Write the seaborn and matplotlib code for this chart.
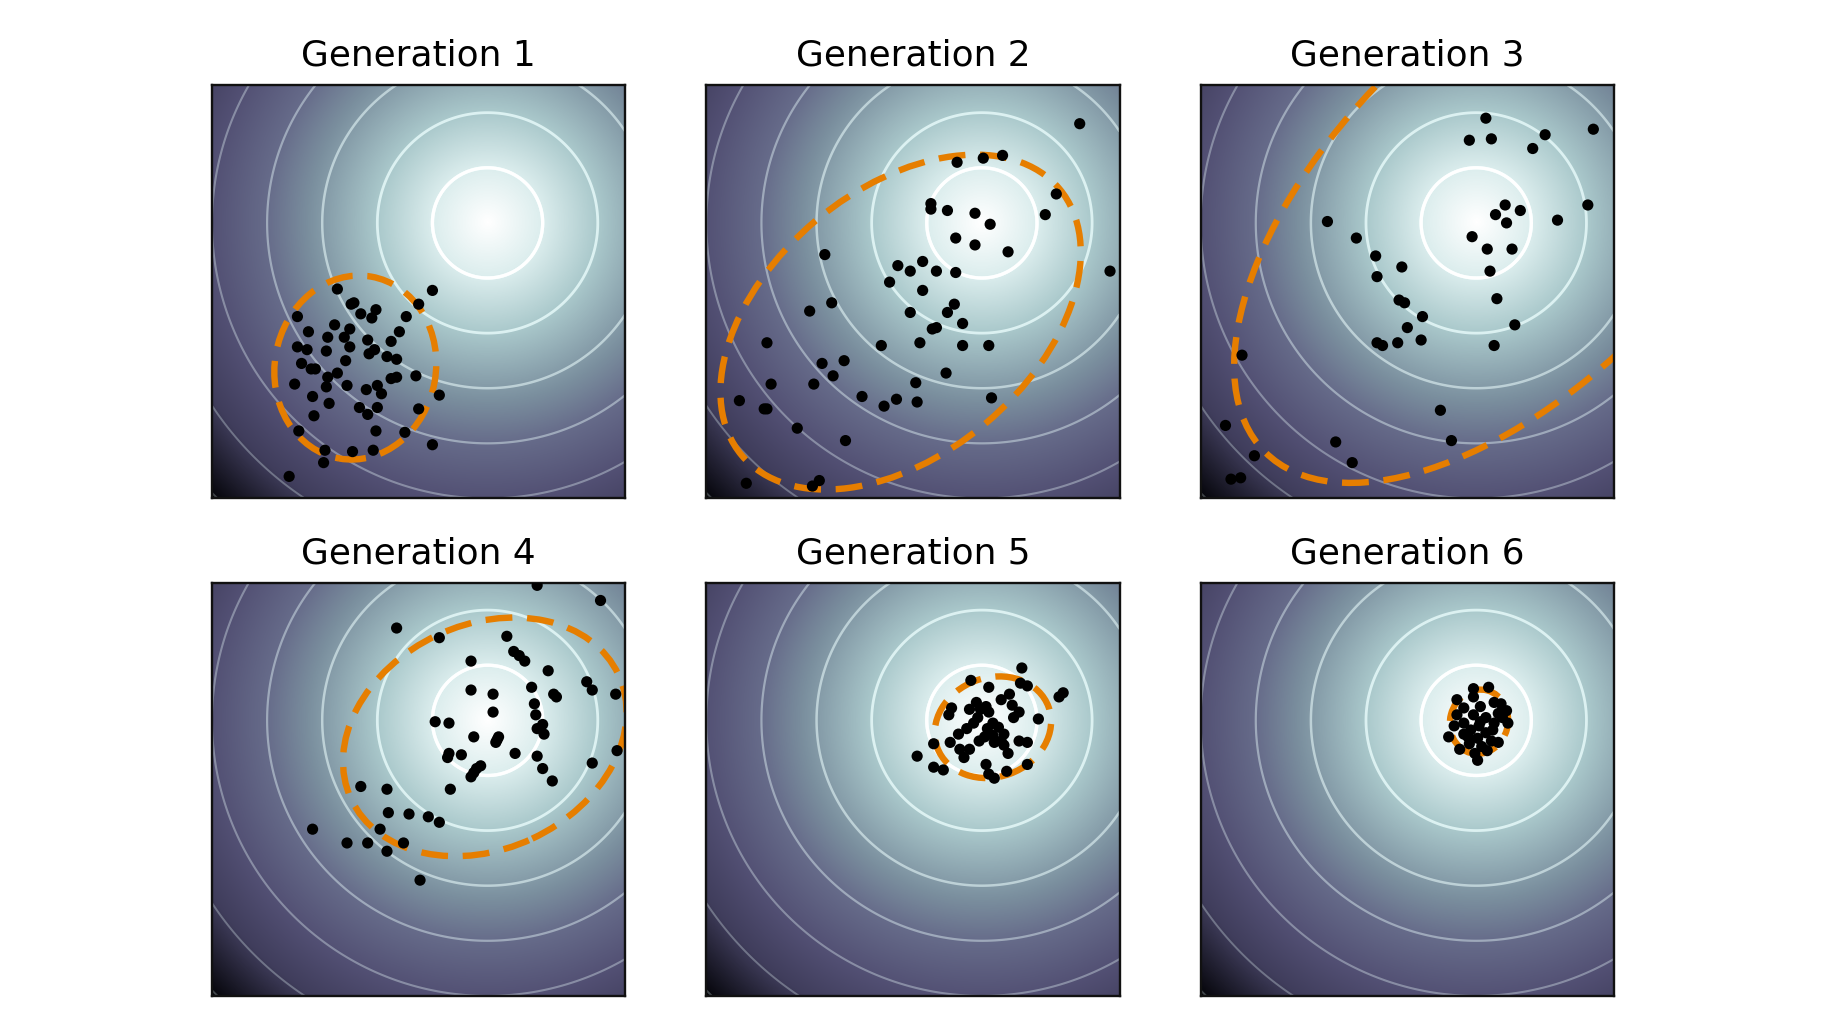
import numpy as np
import matplotlib
matplotlib.use("Agg")
import matplotlib.pyplot as plt
import seaborn as sns
from matplotlib.patches import Ellipse
from matplotlib.colors import LinearSegmentedColormap

# samples of each generation (optimum at the origin)
gen1_x = [-1.09, -0.40, -0.99, -0.97, -0.81, -0.50, -0.92, -0.84, -0.59, -1.38, -1.11, -1.00, -1.30, -0.64, -1.16,
          -1.04, -0.87, -0.70, -1.38, -1.31, -1.17, -1.00, -0.82, -0.86, -0.73, -0.66, -1.03, -1.35, -1.28, -1.25,
          -1.09, -1.16, -0.70, -0.66, -0.52, -1.40, -1.17, -1.02, -0.88, -0.80, -0.77, -0.35, -1.27, -1.15, -0.93,
          -0.80, -0.50, -0.87, -1.26, -1.37, -0.81, -0.60, -0.40, -1.18, -0.98, -0.83, -1.19, -1.44]
gen1_y = [-0.48, -0.49, -0.59, -0.58, -0.63, -0.59, -0.66, -0.69, -0.68, -0.68, -0.74, -0.77, -0.79, -0.79, -0.83,
          -0.83, -0.85, -0.86, -0.90, -0.92, -0.93, -0.90, -0.92, -0.95, -0.97, -0.99, -1.00, -1.02, -1.06, -1.06,
          -1.09, -1.12, -1.13, -1.12, -1.11, -1.17, -1.19, -1.18, -1.21, -1.18, -1.24, -1.25, -1.26, -1.31, -1.34,
          -1.34, -1.35, -1.39, -1.40, -1.51, -1.51, -1.52, -1.61, -1.65, -1.66, -1.65, -1.74, -1.84]

gen2_x = [0.71, -0.18, 0.01, 0.15, 0.54, -0.37, -0.37, -0.25, -0.05, 0.46, 0.06, -0.19, -0.05, 0.19, -1.14,
          -0.61, -0.43, -0.52, -0.33, -0.19, 0.93, -0.67, -0.43, -1.09, -0.20, -1.25, -0.52, -0.25, -0.14, -0.36,
          -0.33, -1.56, -0.73, -0.45, -0.14, 0.05, -1.16, -1.00, -1.08, -0.26, -1.53, -1.22, -0.48, -1.76, -0.87,
          -0.62, -0.47, -0.71, 0.07, -1.58, -1.56, -1.34, -0.99, -1.71, -1.18, -1.23]
gen2_y = [0.72, 0.44, 0.47, 0.49, 0.21, 0.14, 0.10, 0.09, 0.07, 0.06, -0.01, -0.11, -0.16, -0.21, -0.23,
          -0.31, -0.28, -0.35, -0.35, -0.36, -0.35, -0.43, -0.49, -0.58, -0.59, -0.64, -0.65, -0.65, -0.73, -0.77,
          -0.76, -0.87, -0.89, -0.87, -0.89, -0.89, -1.02, -1.00, -1.11, -1.09, -1.17, -1.17, -1.16, -1.29, -1.26,
          -1.28, -1.30, -1.33, -1.27, -1.35, -1.35, -1.49, -1.58, -1.89, -1.87, -1.91]

gen3_x = [0.07, 0.85, -0.05, 0.11, 0.50, 0.41, 0.81, 0.21, 0.32, 0.14, 0.22, 0.59, -1.08, -0.87, -0.03,
          0.08, 0.26, -0.73, -0.54, -0.72, 0.10, 0.15, -0.56, -0.52, -0.39, 0.28, -0.50, -0.40, -0.72, -0.68,
          -0.57, 0.13, -1.70, -0.26, -1.82, -1.02, -0.18, -1.61, -0.90, -1.78, -1.71]
gen3_y = [0.76, 0.68, 0.60, 0.61, 0.64, 0.54, 0.13, 0.13, 0.09, 0.06, 0.00, 0.02, 0.01, -0.11, -0.10,
          -0.19, -0.19, -0.24, -0.32, -0.39, -0.35, -0.55, -0.56, -0.58, -0.68, -0.74, -0.76, -0.85, -0.87, -0.89,
          -0.87, -0.89, -0.96, -1.36, -1.47, -1.59, -1.58, -1.69, -1.74, -1.86, -1.85]

gen4_x = [0.36, 0.82, -0.66, -0.35, 0.14, 0.19, 0.23, 0.27, -0.12, 0.44, 0.72, 0.76, -0.12, 0.04, 0.32,
          0.48, 0.50, 0.93, 0.34, 0.04, 0.35, -0.38, -0.28, 0.40, 0.36, 0.41, -0.10, 0.08, 0.06, 0.07,
          -0.28, -0.19, -0.29, 0.20, 0.36, 0.94, 0.76, -0.05, -0.08, -0.10, -0.12, 0.40, 0.47, -0.92, -0.73,
          -0.27, -0.72, -0.57, -0.43, -0.35, -1.27, -0.78, -1.02, -0.87, -0.61, -0.73, -0.49]
gen4_y = [0.98, 0.87, 0.67, 0.60, 0.61, 0.50, 0.47, 0.43, 0.43, 0.36, 0.28, 0.22, 0.22, 0.19, 0.24,
          0.19, 0.17, 0.19, 0.12, 0.06, 0.04, -0.01, -0.02, -0.03, -0.06, -0.10, -0.12, -0.12, -0.16, -0.14,
          -0.24, -0.25, -0.27, -0.24, -0.26, -0.22, -0.31, -0.33, -0.35, -0.38, -0.41, -0.35, -0.44, -0.48, -0.50,
          -0.50, -0.67, -0.68, -0.70, -0.74, -0.79, -0.79, -0.89, -0.89, -0.89, -0.95, -1.16]

gen5_x = [0.29, -0.08, 0.28, 0.33, 0.05, 0.59, 0.56, 0.20, 0.14, -0.04, 0.03, 0.22, -0.09, -0.01, -0.22,
          -0.24, 0.05, 0.27, 0.23, 0.41, -0.03, 0.08, -0.06, -0.11, 0.04, 0.12, 0.16, 0.08, -0.17, 0.02,
          -0.02, 0.14, 0.27, 0.33, -0.35, -0.23, 0.09, 0.16, -0.16, -0.09, 0.19, -0.47, -0.13, 0.03, 0.33,
          -0.35, -0.28, 0.05, 0.18, 0.09]
gen5_y = [0.38, 0.29, 0.27, 0.25, 0.24, 0.20, 0.17, 0.19, 0.15, 0.13, 0.10, 0.11, 0.08, 0.08, 0.09,
          0.04, 0.06, 0.06, 0.02, 0.01, 0.02, -0.02, -0.02, -0.06, -0.06, -0.05, -0.10, -0.11, -0.10, -0.12,
          -0.15, -0.15, -0.15, -0.16, -0.17, -0.16, -0.16, -0.18, -0.21, -0.21, -0.24, -0.26, -0.27, -0.32, -0.32,
          -0.34, -0.36, -0.39, -0.37, -0.42]

gen6_x = [-0.02, 0.09, -0.14, -0.02, 0.13, 0.18, 0.03, -0.09, 0.22, -0.14, -0.02, 0.07, 0.16, 0.23, -0.09,
          0.02, 0.13, -0.16, -0.04, 0.07, -0.09, -0.20, 0.01, 0.11, 0.16, -0.05, 0.04, -0.12, 0.08, -0.01,
          0.01, -0.06, 0.03, 0.12, 0.19]
gen6_y = [0.23, 0.24, 0.15, 0.17, 0.13, 0.12, 0.10, 0.09, 0.07, 0.04, 0.04, 0.02, 0.05, -0.02, -0.02,
          -0.04, -0.02, -0.04, -0.07, -0.09, -0.10, -0.12, -0.13, -0.15, -0.16, -0.17, -0.19, -0.21, -0.22, -0.24,
          -0.29, -0.12, -0.01, -0.07, 0.02]

gens_x = [gen1_x, gen2_x, gen3_x, gen4_x, gen5_x, gen6_x]
gens_y = [gen1_y, gen2_y, gen3_y, gen4_y, gen5_y, gen6_y]
titles = ["Generation 1", "Generation 2", "Generation 3", "Generation 4", "Generation 5", "Generation 6"]

# search distribution (1-sigma ellipse) per generation
ell_x = [-0.96, -0.59, 0.27, -0.02, 0.08, 0.02]
ell_y = [-1.05, -0.72, 0.14, -0.12, -0.05, -0.01]
ell_w = [1.17, 3.01, 5.10, 2.14, 0.86, 0.42]
ell_h = [1.34, 1.92, 2.62, 1.63, 0.72, 0.47]
ell_angle = [-10, 40, 45, 25, 20, -15]

contour_levels = [0.4, 0.8, 1.2, 1.6, 2.0, 2.4, 2.8]

# background landscape
grid = np.linspace(-2, 1, 500)
gx, gy = np.meshgrid(grid, grid)
dist = np.hypot(gx, gy)

cmap = LinearSegmentedColormap.from_list("land", [
    (0.00, (1.00, 1.00, 1.00)),
    (0.14, (0.86, 0.93, 0.93)),
    (0.28, (0.67, 0.79, 0.80)),
    (0.46, (0.48, 0.56, 0.62)),
    (0.57, (0.40, 0.42, 0.54)),
    (0.72, (0.32, 0.31, 0.45)),
    (0.84, (0.25, 0.24, 0.36)),
    (1.00, (0.02, 0.02, 0.04)),
])

fig, axes = plt.subplots(2, 3, figsize=(18.26, 10.27), dpi=100)
fig.subplots_adjust(left=0.1161, right=0.8839, top=0.9172, bottom=0.0302, wspace=0.196, hspace=0.203)

line_alpha = [1.0, 0.75, 0.55, 0.42, 0.35, 0.3, 0.26]
line_width = [2.4, 2.0, 1.8, 1.6, 1.5, 1.4, 1.4]

for i, ax in enumerate(axes.flat):
    ax.imshow(dist, extent=(-2, 1, -2, 1), origin="lower", cmap=cmap, vmin=0, vmax=2 * np.sqrt(2),
              interpolation="bilinear", zorder=0)
    for lev, a, lw in zip(contour_levels, line_alpha, line_width):
        ax.contour(gx, gy, dist, levels=[lev], colors=[(0.93, 1.0, 1.0)], alpha=a, linewidths=lw, zorder=1)
        if lev == 0.4:
            ax.contour(gx, gy, dist, levels=[lev], colors="white", linewidths=lw, zorder=1)

    e = Ellipse((ell_x[i], ell_y[i]), ell_w[i], ell_h[i], angle=ell_angle[i], fill=False,
                edgecolor="#e67e00", linewidth=4.6, linestyle=(0, (4.2, 2.3)), zorder=2)
    ax.add_patch(e)

    sns.scatterplot(x=gens_x[i], y=gens_y[i], ax=ax, color="black", s=65, edgecolor="none",
                    zorder=3, legend=False)

    ax.set_xlim(-2, 1)
    ax.set_ylim(-2, 1)
    ax.set_aspect("equal")
    ax.set_xticks([])
    ax.set_yticks([])
    ax.set_xlabel("")
    ax.set_ylabel("")
    for sp in ax.spines.values():
        sp.set_linewidth(1.7)
        sp.set_color("#111111")
    ax.set_title(titles[i], fontsize=25.8, pad=14)

fig.savefig("out.png", dpi=100)
